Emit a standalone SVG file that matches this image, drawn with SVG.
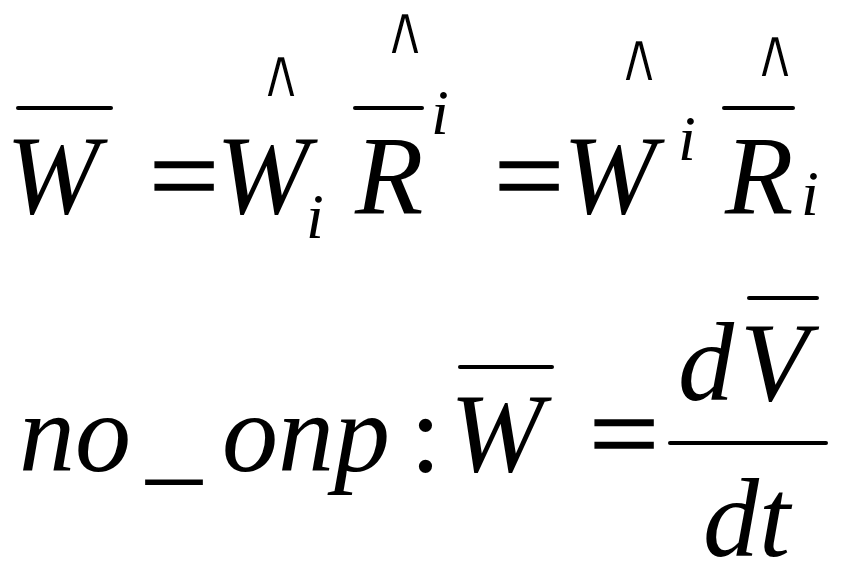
<svg xmlns="http://www.w3.org/2000/svg" width="855" height="585" viewBox="0 0 855 585">
<style>
.m{font-family:"Liberation Serif","Times New Roman",serif;font-style:italic;fill:#000}
.u{font-family:"Liberation Serif","Times New Roman",serif;fill:#000}
.big{font-size:112px}
.sm{font-size:64px}
.eq{stroke:#000;stroke-width:1.4}
.hat{font-family:"DejaVu Sans",sans-serif;font-size:64px;fill:#000;stroke:#fff;stroke-width:2;text-anchor:middle}
.bar{stroke:#000;stroke-width:4;stroke-linecap:round}
</style>
<rect width="855" height="585" fill="#fff"/>
<g id="eq1">
  <text class="m big" x="6" y="213">W</text>
  <line class="bar" x1="18" y1="108" x2="111" y2="108"/>
  <text class="u big eq" transform="translate(149,213) scale(1.11,1)">=</text>
  <text class="m big" x="216" y="213">W</text>
  <text class="m sm" x="306" y="238">i</text>
  <text class="hat" transform="translate(281,97) scale(0.95,1.1)">∧</text>
  <text class="m big" x="355" y="213">R</text>
  <line class="bar" x1="355" y1="108" x2="422" y2="108"/>
  <text class="m sm" x="431" y="134">i</text>
  <text class="hat" transform="translate(405,54) scale(0.95,1.1)">∧</text>
  <text class="u big eq" transform="translate(494,213) scale(1.11,1)">=</text>
  <text class="m big" x="563" y="213">W</text>
  <text class="m sm" x="678" y="160">i</text>
  <text class="hat" transform="translate(639,81) scale(0.95,1.1)">∧</text>
  <text class="m big" x="725" y="213">R</text>
  <line class="bar" x1="724" y1="108" x2="793" y2="108"/>
  <text class="m sm" x="801" y="215">i</text>
  <text class="hat" transform="translate(775,77) scale(0.95,1.1)">∧</text>
</g>
<g id="eq2">
  <text class="m big" x="19" y="471">no</text>
  <text class="m big" x="146" y="471">_</text>
  <text class="m big" x="222" y="471">onp</text>
  <text class="u big" x="410" y="471">:</text>
  <text class="m big" x="450" y="471">W</text>
  <line class="bar" x1="460" y1="367" x2="552" y2="367"/>
  <text class="u big eq" transform="translate(589,471) scale(1.11,1)">=</text>
  <line class="bar" x1="670" y1="443" x2="826" y2="443"/>
  <text class="m big" x="678" y="400">d</text>
  <text class="m big" x="740" y="400">V</text>
  <line class="bar" x1="749" y1="298" x2="817" y2="298"/>
  <text class="m big" x="703" y="556">dt</text>
</g>
</svg>
